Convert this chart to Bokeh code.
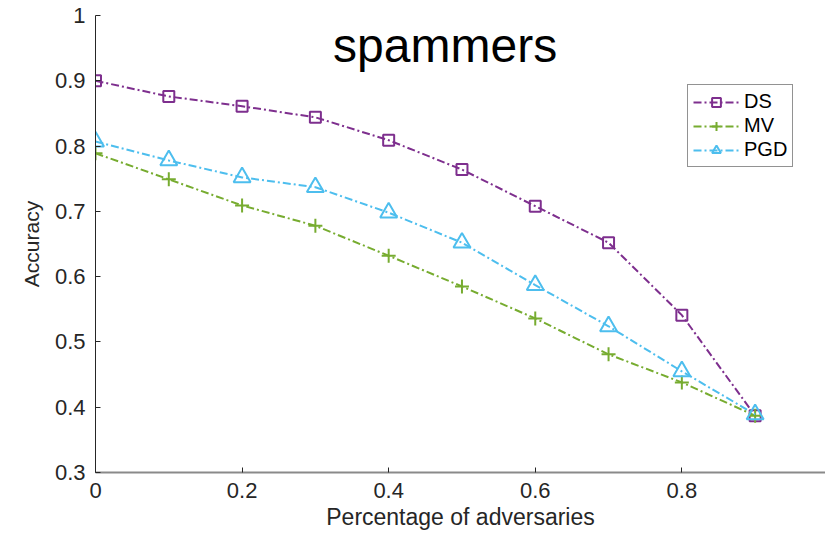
from bokeh.plotting import figure
from bokeh.models import FixedTicker, Label, Range1d
from bokeh.embed import file_html
from bokeh.resources import INLINE

x_vals = [0.0, 0.1, 0.2, 0.3, 0.4, 0.5, 0.6, 0.7, 0.8, 0.9]
ds = [0.900, 0.876, 0.861, 0.844, 0.809, 0.764, 0.708, 0.652, 0.541, 0.387]
mv = [0.789, 0.749, 0.709, 0.678, 0.632, 0.585, 0.536, 0.481, 0.438, 0.387]
pgd = [0.807, 0.778, 0.752, 0.737, 0.698, 0.652, 0.587, 0.524, 0.455, 0.389]
y_ticks = [0.3, 0.4, 0.5, 0.6, 0.7, 0.8, 0.9, 1.0]
x_ticks = [0.0, 0.2, 0.4, 0.6, 0.8, 1.0]
title_text = "spammers"
x_label = "Percentage of adversaries"
y_label = "Accuracy"

FONT = "Liberation Sans"
p = figure(width=825, height=534, output_backend="svg", toolbar_location=None,
           x_range=Range1d(0, 0.996), y_range=Range1d(0.3, 1.0),
           min_border_left=95, min_border_right=0, min_border_top=15, min_border_bottom=62)
p.outline_line_color = None
p.xgrid.visible = False
p.ygrid.visible = False

dash = "8 3 2 3"
series = [
    (ds, "#7E2F8E", "square", 11, "DS"),
    (mv, "#77AC30", "cross", 14, "MV"),
    (pgd, "#4DBEEE", "triangle", 17, "PGD"),
]
for ys, col, mk, sz, lab in series:
    p.line(x_vals, ys, line_color=col, line_width=2, line_dash=dash, legend_label=lab)
    p.scatter(x_vals, ys, marker=mk, size=sz, line_color=col, fill_color=None,
              line_width=2, legend_label=lab)

for ax in (p.xaxis[0], p.yaxis[0]):
    ax.major_tick_in = 5
    ax.major_tick_out = 0
    ax.minor_tick_in = 0
    ax.minor_tick_out = 0
    ax.major_label_text_font = FONT
    ax.major_label_text_font_size = "22px"
    ax.major_label_text_color = "#262626"
    ax.axis_label_text_font = FONT
    ax.axis_label_text_font_style = "normal"
    ax.axis_label_text_color = "#262626"

p.yaxis.ticker = FixedTicker(ticks=y_ticks)
p.yaxis.major_label_overrides = {1.0: "1"}
p.yaxis.axis_line_color = "#262626"
p.yaxis.major_tick_line_color = "#262626"
p.yaxis.major_label_standoff = 10
p.yaxis.axis_label = y_label
p.yaxis.axis_label_text_font_size = "21px"
p.yaxis.axis_label_standoff = 9

p.xaxis.ticker = FixedTicker(ticks=x_ticks)
p.xaxis.major_label_overrides = {0.0: "0", 1.0: "1"}
p.xaxis.axis_line_color = "#8a8a8a"
p.xaxis.axis_line_width = 2
p.xaxis.major_tick_line_color = "#262626"
p.xaxis.major_label_standoff = 10
p.xaxis.axis_label = x_label
p.xaxis.axis_label_text_font_size = "23px"
p.xaxis.axis_label_standoff = 3

p.add_layout(Label(x=0.477, y=0.954, text=title_text, text_font=FONT,
                   text_font_size="48px", text_align="center",
                   text_baseline="middle", text_color="black"))

lg = p.legend[0]
lg.margin = 0
lg.border_line_color = "#262626"
lg.border_line_width = 1
lg.background_fill_alpha = 1
lg.label_text_font = FONT
lg.label_text_font_size = "20px"
lg.label_text_color = "black"
lg.glyph_width = 46
lg.glyph_height = 22
lg.label_height = 22
lg.spacing = 1
lg.padding = 5
lg.label_standoff = 5
lg.location = (687 - 95, 472 - 167)

open("out.html", "w").write(file_html(p, INLINE))
